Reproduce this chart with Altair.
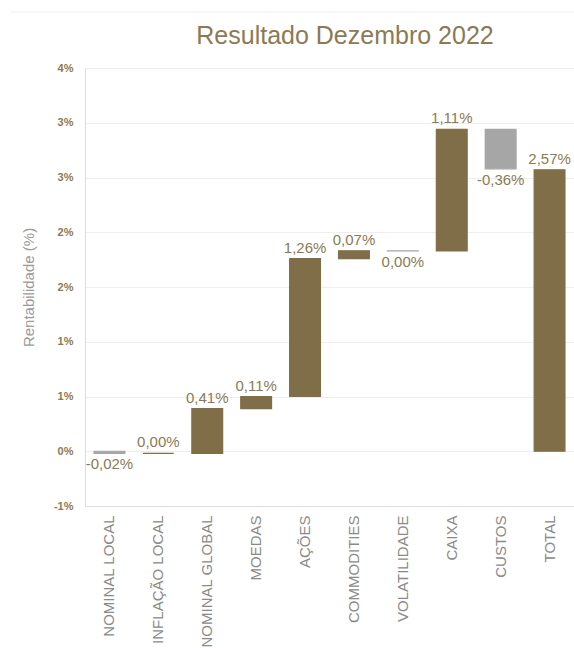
import altair as alt
import pandas as pd
import numpy as np

CATEGORIES = ["NOMINAL LOCAL", "INFLAÇÃO LOCAL", "NOMINAL GLOBAL", "MOEDAS", "AÇÕES",
              "COMMODITIES", "VOLATILIDADE", "CAIXA", "CUSTOS", "TOTAL"]
STEP_VALUES = [-0.02, 0.00, 0.41, 0.11, 1.26, 0.07, -0.001, 1.11, -0.36]
TOTAL_VALUE = 2.57
LABELS = ["-0,02%", "0,00%", "0,41%", "0,11%", "1,26%", "0,07%", "0,00%", "1,11%", "-0,36%", "2,57%"]
Y_TICKS = [-0.5, 0.0, 0.5, 1.0, 1.5, 2.0, 2.5, 3.0, 3.5]
TITLE = "Resultado Dezembro 2022"

BROWN = "#806E48"
GRAY = "#A6A6A6"
TEXT_BROWN = "#8B7A55"

ends = np.cumsum(STEP_VALUES)
starts = np.concatenate([[0.0], ends[:-1]])
starts = list(starts) + [0.0]
ends = list(ends) + [TOTAL_VALUE]
vals = STEP_VALUES + [TOTAL_VALUE]

df = pd.DataFrame({
    "cat": CATEGORIES,
    "start": starts,
    "end": ends,
    "label": LABELS,
    "neg": [v < 0 for v in vals],
})
df["top"] = df[["start", "end"]].max(axis=1)
df["bottom"] = df[["start", "end"]].min(axis=1)
df["color"] = [GRAY if n else BROWN for n in df["neg"]]

xenc = alt.X("cat:N", sort=CATEGORIES, title=None,
             scale=alt.Scale(paddingInner=0.37, paddingOuter=0.185),
             axis=alt.Axis(labelAngle=-90, labelFont="Liberation Sans", labelFontSize=15,
                           labelColor="#8A8A8A", labelPadding=9, ticks=False,
                           domainColor="#DDDDDD", labelLimit=200))
yscale = alt.Scale(domain=[-0.5, 3.5], nice=False, zero=False)

bars = alt.Chart(df).mark_bar(strokeWidth=1.2).encode(
    x=xenc,
    y=alt.Y("start:Q", scale=yscale, title="Rentabilidade (%)",
            axis=alt.Axis(values=Y_TICKS,
                          labelExpr="(datum.value < 0 ? '-' : '') + round(abs(datum.value)) + '%'",
                          labelFont="Liberation Sans", labelFontSize=11, labelFontWeight="bold",
                          labelColor=TEXT_BROWN, labelPadding=12, ticks=False,
                          gridColor="#EEEEEE", domainColor="#DDDDDD",
                          titleFont="Liberation Sans", titleFontSize=15, titleFontWeight="normal",
                          titleColor="#9A9A9A", titlePadding=17)),
    y2="end:Q",
    color=alt.Color("color:N", scale=None),
    stroke=alt.Color("color:N", scale=None),
)

pos_labels = alt.Chart(df).transform_filter("!datum.neg").mark_text(
    baseline="bottom", dy=-3, font="Liberation Sans", fontSize=15, color=TEXT_BROWN
).encode(x=alt.X("cat:N", sort=CATEGORIES), y=alt.Y("top:Q", scale=yscale), text="label:N")

neg_labels = alt.Chart(df).transform_filter("datum.neg").mark_text(
    baseline="top", dy=4, font="Liberation Sans", fontSize=15, color=TEXT_BROWN
).encode(x=alt.X("cat:N", sort=CATEGORIES), y=alt.Y("bottom:Q", scale=yscale), text="label:N")

border = alt.Chart(pd.DataFrame({"a": [0]})).mark_rule(color="#EEEEEE", strokeWidth=1).encode(
    x=alt.value(-75), x2=alt.value(489), y=alt.value(-56)
)

title = alt.Chart(pd.DataFrame({"t": [TITLE]})).mark_text(
    font="Liberation Sans", fontSize=25, color=TEXT_BROWN, baseline="middle", align="center"
).encode(x=alt.value(260), y=alt.value(-32), text="t:N")

chart = alt.layer(bars, pos_labels, neg_labels, border, title).properties(
    width=489, height=438,
    padding={"left": 85, "top": 68, "right": 0, "bottom": 142},
    autosize=alt.AutoSizeParams(type="none"),
).configure_view(stroke=None)

chart.save("out.html", embed_options={"renderer": "svg", "actions": False})
